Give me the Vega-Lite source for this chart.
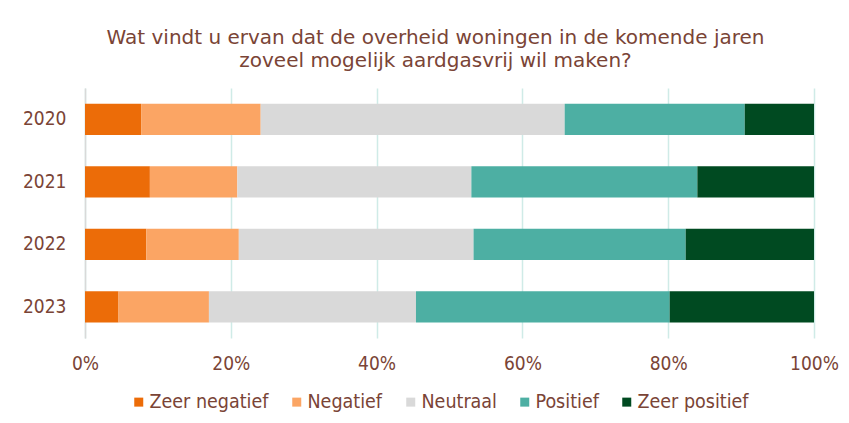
{
  "$schema": "https://vega.github.io/schema/vega-lite/v6.json",
  "autosize": "none",
  "width": 729,
  "height": 250,
  "padding": {"left": 85, "top": 88, "right": 35, "bottom": 85},
  "background": "white",
  "title": {
    "text": ["Wat vindt u ervan dat de overheid woningen in de komende jaren", "zoveel mogelijk aardgasvrij wil maken?"],
    "font": "DejaVu Sans",
    "fontSize": 20,
    "fontWeight": "normal",
    "color": "#7A4436",
    "anchor": "middle",
    "dx": -14,
    "lineHeight": 23,
    "offset": 17
  },
  "data": {
    "values": [
      {"jaar": "2020", "oordeel": "Zeer negatief", "idx": 1, "aandeel": 0.077},
      {"jaar": "2020", "oordeel": "Negatief", "idx": 2, "aandeel": 0.164},
      {"jaar": "2020", "oordeel": "Neutraal", "idx": 3, "aandeel": 0.417},
      {"jaar": "2020", "oordeel": "Positief", "idx": 4, "aandeel": 0.247},
      {"jaar": "2020", "oordeel": "Zeer positief", "idx": 5, "aandeel": 0.095},
      {"jaar": "2021", "oordeel": "Zeer negatief", "idx": 1, "aandeel": 0.089},
      {"jaar": "2021", "oordeel": "Negatief", "idx": 2, "aandeel": 0.120},
      {"jaar": "2021", "oordeel": "Neutraal", "idx": 3, "aandeel": 0.321},
      {"jaar": "2021", "oordeel": "Positief", "idx": 4, "aandeel": 0.310},
      {"jaar": "2021", "oordeel": "Zeer positief", "idx": 5, "aandeel": 0.160},
      {"jaar": "2022", "oordeel": "Zeer negatief", "idx": 1, "aandeel": 0.084},
      {"jaar": "2022", "oordeel": "Negatief", "idx": 2, "aandeel": 0.127},
      {"jaar": "2022", "oordeel": "Neutraal", "idx": 3, "aandeel": 0.322},
      {"jaar": "2022", "oordeel": "Positief", "idx": 4, "aandeel": 0.291},
      {"jaar": "2022", "oordeel": "Zeer positief", "idx": 5, "aandeel": 0.176},
      {"jaar": "2023", "oordeel": "Zeer negatief", "idx": 1, "aandeel": 0.046},
      {"jaar": "2023", "oordeel": "Negatief", "idx": 2, "aandeel": 0.124},
      {"jaar": "2023", "oordeel": "Neutraal", "idx": 3, "aandeel": 0.284},
      {"jaar": "2023", "oordeel": "Positief", "idx": 4, "aandeel": 0.348},
      {"jaar": "2023", "oordeel": "Zeer positief", "idx": 5, "aandeel": 0.198}
    ]
  },
  "mark": {"type": "bar"},
  "encoding": {
    "y": {
      "field": "jaar",
      "type": "nominal",
      "sort": ["2020", "2021", "2022", "2023"],
      "scale": {"paddingInner": 0.5, "paddingOuter": 0.25},
      "axis": {
        "title": null,
        "domain": true,
        "domainColor": "#D9D9D9",
        "domainWidth": 1.5,
        "ticks": false,
        "labelPadding": 19,
        "labelFont": "DejaVu Sans Condensed",
        "labelFontSize": 19,
        "labelColor": "#7A4436",
        "grid": false
      }
    },
    "x": {
      "field": "aandeel",
      "type": "quantitative",
      "stack": "zero",
      "scale": {"domain": [0, 1], "nice": false},
      "axis": {
        "title": null,
        "format": ".0%",
        "values": [0, 0.2, 0.4, 0.6, 0.8, 1],
        "domain": false,
        "ticks": false,
        "grid": true,
        "gridColor": "#CFEBE7",
        "gridWidth": 1.5,
        "labelPadding": 16,
        "labelFont": "DejaVu Sans Condensed",
        "labelFontSize": 19,
        "labelColor": "#7A4436",
        "labelFlush": false
      }
    },
    "order": {"field": "idx", "type": "quantitative"},
    "color": {
      "field": "oordeel",
      "type": "nominal",
      "scale": {
        "domain": ["Zeer negatief", "Negatief", "Neutraal", "Positief", "Zeer positief"],
        "range": ["#EC6C08", "#FBA564", "#D9D9D9", "#4DAFA3", "#004A21"]
      },
      "legend": {
        "title": null,
        "orient": "none",
        "direction": "horizontal",
        "legendX": 44,
        "legendY": 304,
        "symbolType": "square",
        "symbolSize": 81,
        "symbolStrokeWidth": 0,
        "labelFont": "DejaVu Sans Condensed",
        "labelFontSize": 19.5,
        "labelColor": "#7A4436",
        "labelOffset": 1,
        "columnPadding": 18
      }
    }
  },
  "config": {
    "view": {"stroke": null},
    "axis": {"gridOpacity": 1}
  }
}
